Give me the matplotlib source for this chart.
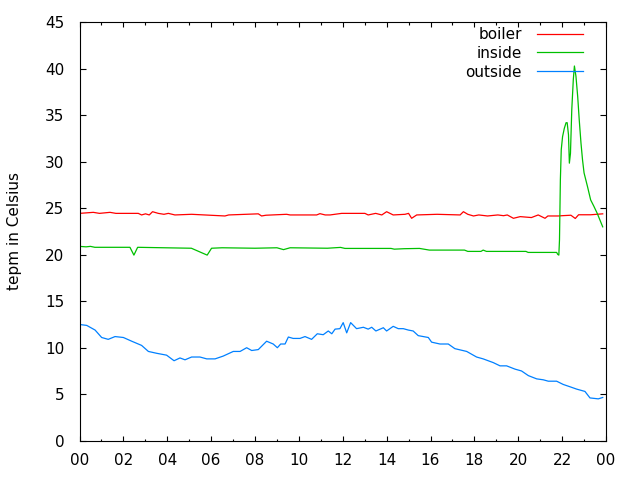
#!/usr/bin/env python3
"""Boiler / inside / outside temperatures over one day."""
import matplotlib
matplotlib.use('Agg')
import matplotlib.pyplot as plt
from matplotlib.ticker import MultipleLocator

# hours since midnight, temperature in Celsius
boiler_t = [0.0, 0.63, 0.91, 1.39, 1.66, 2.68, 2.83, 3.01, 3.18, 3.33, 3.59, 3.85,
            4.05, 4.35, 5.11, 6.63, 6.8, 8.15, 8.3, 8.5, 9.44, 9.6, 10.81, 10.96,
            11.2, 11.42, 11.95, 13.01, 13.16, 13.5, 13.78, 14.0, 14.3, 14.84, 15.0,
            15.14, 15.37, 16.3, 17.35, 17.5, 17.7, 17.96, 18.2, 18.6, 19.07, 19.33,
            19.5, 19.78, 20.09, 20.6, 20.91, 21.22, 21.35, 21.82, 22.0, 22.4, 22.6,
            22.75, 23.3, 23.85]
boiler_v = [24.45, 24.56, 24.45, 24.56, 24.45, 24.45, 24.28, 24.4, 24.28, 24.63, 24.45, 24.35,
            24.45, 24.28, 24.35, 24.17, 24.28, 24.4, 24.17, 24.25, 24.35, 24.28, 24.28, 24.42,
            24.28, 24.28, 24.45, 24.45, 24.28, 24.45, 24.28, 24.63, 24.28, 24.35, 24.45,
            23.92, 24.28, 24.35, 24.28, 24.63, 24.35, 24.17, 24.28, 24.17, 24.28, 24.2,
            24.28, 23.92, 24.1, 24.0, 24.28, 23.92, 24.17, 24.17, 24.2, 24.25, 23.9,
            24.3, 24.3, 24.4]

inside_t = [0.0, 0.3, 0.5, 0.7, 2.3, 2.48, 2.65, 5.1, 5.82, 6.02, 6.5, 8.0, 9.0, 9.3,
            9.6, 11.3, 11.9, 12.1, 14.2, 14.35, 14.8, 15.5, 15.7, 15.95, 17.55, 17.7,
            18.3, 18.4, 18.55, 20.35, 20.45, 21.75, 21.8, 21.85, 21.88, 21.92, 21.96,
            22.02, 22.1, 22.18, 22.23, 22.29, 22.33, 22.38, 22.44, 22.51, 22.56, 22.63,
            22.71, 22.78, 22.86, 22.93, 23.0, 23.16, 23.3, 23.45, 23.6, 23.85]
inside_v = [20.9, 20.85, 20.9, 20.8, 20.8, 19.96, 20.8, 20.7, 19.96, 20.7, 20.75, 20.7, 20.75, 20.55,
            20.75, 20.7, 20.79, 20.68, 20.68, 20.6, 20.65, 20.68, 20.6, 20.5, 20.5, 20.36,
            20.36, 20.5, 20.36, 20.36, 20.25, 20.25, 20.04, 19.96, 21.6, 28.06, 31.3,
            32.7, 33.6, 34.2, 34.2, 32.9, 29.85, 30.9, 35.6, 38.85, 40.3, 39.2,
            37.0, 34.5, 32.0, 30.2, 28.8, 27.3, 25.9, 25.2, 24.45, 23.0]

outside_t = [0.0, 0.33, 0.71, 1.01, 1.31, 1.62, 2.0, 2.38, 2.83, 3.14, 3.52, 3.97, 4.31,
             4.58, 4.81, 5.11, 5.49, 5.8, 6.18, 6.55, 7.01, 7.32, 7.62, 7.85, 8.15, 8.53,
             8.83, 9.02, 9.17, 9.37, 9.52, 9.74, 10.05, 10.28, 10.58, 10.84, 11.11, 11.34,
             11.5, 11.65, 11.87, 12.02, 12.18, 12.36, 12.63, 12.94, 13.16, 13.32, 13.51,
             13.85, 14.0, 14.3, 14.53, 14.76, 14.99, 15.21, 15.44, 15.9, 16.05, 16.43,
             16.81, 17.11, 17.65, 18.1, 18.4, 18.86, 19.17, 19.47, 19.85, 20.15, 20.46,
             20.84, 21.14, 21.37, 21.75, 22.05, 22.36, 22.66, 23.04, 23.27, 23.65, 23.85]
outside_v = [12.5, 12.4, 11.9, 11.1, 10.9, 11.2, 11.1, 10.7, 10.25, 9.6, 9.4, 9.2, 8.6,
             8.9, 8.7, 9.0, 9.0, 8.8, 8.8, 9.1, 9.6, 9.6, 10.0, 9.7, 9.8, 10.7,
             10.4, 10.0, 10.4, 10.4, 11.15, 11.0, 11.0, 11.2, 10.9, 11.5, 11.4, 11.8,
             11.5, 12.0, 12.05, 12.7, 11.6, 12.7, 12.05, 12.2, 12.0, 12.2, 11.8,
             12.15, 11.8, 12.3, 12.05, 12.05, 11.9, 11.8, 11.3, 11.1, 10.6, 10.4,
             10.4, 9.9, 9.6, 9.0, 8.8, 8.4, 8.05, 8.05, 7.7, 7.5, 7.0,
             6.65, 6.55, 6.4, 6.4, 6.05, 5.8, 5.55, 5.3, 4.6, 4.5, 4.65]

xtick_labels = ['00', '02', '04', '06', '08', '10', '12', '14', '16', '18', '20', '22', '00']

plt.rcParams['font.family'] = 'DejaVu Sans'
fig = plt.figure(figsize=(6.4, 4.8), dpi=100)
ax = fig.add_axes([79.5 / 640, 1 - 440.7 / 480, 526.5 / 640, 418.4 / 480])

ax.plot(boiler_t, boiler_v, color='#ff0000', lw=0.9, label='boiler')
ax.plot(inside_t, inside_v, color='#00c000', lw=0.9, label='inside')
ax.plot(outside_t, outside_v, color='#0080ff', lw=0.9, label='outside')

ax.set_xlim(0, 24)
ax.set_ylim(0, 45)
ax.set_xticks(range(0, 25, 2))
ax.set_xticklabels(xtick_labels)
ax.xaxis.set_minor_locator(MultipleLocator(1))
ax.set_yticks(range(0, 46, 5))
ax.tick_params(axis='both', which='both', direction='in', top=True, right=True,
               labelsize=11, colors='black')
ax.tick_params(axis='x', which='major', length=3.5, width=0.8, pad=9)
ax.tick_params(axis='x', which='minor', length=1.8, width=0.8)
ax.tick_params(axis='y', which='major', length=4.5, width=0.8, pad=11)
for s in ax.spines.values():
    s.set_linewidth(0.8)

fig.text(15 / 640, 1 - 231 / 480, 'tepm in Celsius', rotation=90,
         ha='center', va='center', fontsize=11)

ax.legend(loc='upper right', bbox_to_anchor=(0.974, 1.011), frameon=False,
          markerfirst=False, fontsize=11, handlelength=3.0, handletextpad=1.0,
          labelspacing=0.25, borderaxespad=0.2)

plt.savefig('out.png', dpi=100, facecolor='white')
